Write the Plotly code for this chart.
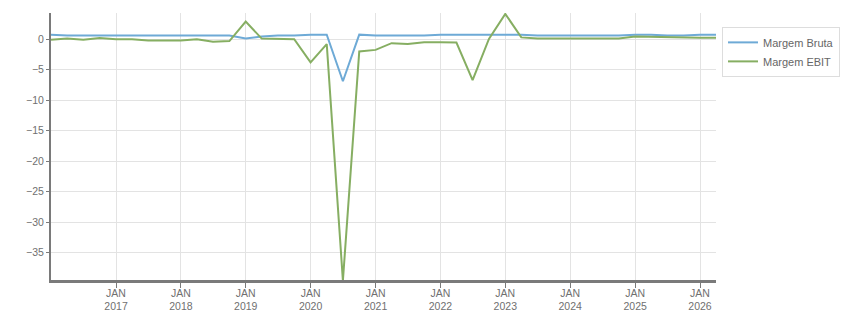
import plotly.graph_objects as go
import pandas as pd

dates = pd.date_range("2016-01-01", "2026-04-01", freq="QS").strftime("%Y-%m-%d").tolist()

margem_bruta = [0.75, 0.6, 0.6, 0.6, 0.6, 0.6, 0.6, 0.6, 0.6, 0.6, 0.6, 0.6,
                0.1, 0.45, 0.6, 0.6,
                0.75, 0.75, -6.9, 0.75, 0.6, 0.6, 0.6, 0.6,
                0.75, 0.75, 0.75, 0.75, 0.75, 0.75, 0.6, 0.6,
                0.6, 0.6, 0.6, 0.6, 0.75, 0.75, 0.6, 0.6, 0.75, 0.75]

margem_ebit = [-0.1, 0.1, -0.1, 0.2, 0.0, 0.0, -0.2, -0.2, -0.2, 0.0, -0.4, -0.3,
               2.9, 0.1, 0.0, 0.0,
               -3.8, -0.8, -39.6, -2.0, -1.75, -0.65, -0.8, -0.5,
               -0.5, -0.55, -6.7, 0.05, 4.15, 0.3, 0.1, 0.1,
               0.1, 0.2, 0.1, 0.1, 0.45, 0.4, 0.25, 0.25, 0.25, 0.25]

tick_years = list(range(2017, 2027))
tick_vals = [f"{y}-01-01" for y in tick_years]
tick_text = [f"JAN<br>{y}" for y in tick_years]
y_ticks = [0, -5, -10, -15, -20, -25, -30, -35]

fig = go.Figure()
fig.add_trace(go.Scatter(x=dates, y=margem_bruta, mode="lines", name="Margem Bruta",
                         line=dict(color="#6eaad6", width=2)))
fig.add_trace(go.Scatter(x=dates, y=margem_ebit, mode="lines", name="Margem EBIT",
                         line=dict(color="#86ae62", width=2)))

font = dict(family="Liberation Sans, Arial, sans-serif", size=10.5, color="#707070")

fig.update_layout(
    width=851, height=313,
    margin=dict(l=51, r=135, t=13, b=33, autoexpand=False),
    paper_bgcolor="white", plot_bgcolor="white",
    font=font,
    showlegend=True,
    legend=dict(x=1.009, y=0.948, xanchor="left", yanchor="top",
                bordercolor="#dddddd", borderwidth=1,
                font=dict(family="Liberation Sans, Arial, sans-serif", size=11, color="#666666"),
                tracegroupgap=0, itemwidth=30),
    xaxis=dict(range=["2016-01-01", "2026-04-01"], tickvals=tick_vals, ticktext=tick_text,
               showgrid=True, gridcolor="#e3e3e3", gridwidth=1,
               showline=True, linecolor="#7a7a7a", linewidth=3,
               ticks="outside", ticklen=5, tickcolor="#7a7a7a", tickwidth=1,
               ticklabelstandoff=-4,
               zeroline=False, tickfont=font, automargin=False),
    yaxis=dict(range=[-39.5, 4.3], tickvals=y_ticks,
               showgrid=True, gridcolor="#e3e3e3", gridwidth=1,
               showline=True, linecolor="#7a7a7a", linewidth=2,
               ticks="outside", ticklen=3, tickcolor="#7a7a7a", tickwidth=1,
               zeroline=False, tickfont=font, automargin=False),
)

fig.write_html("out.html")
